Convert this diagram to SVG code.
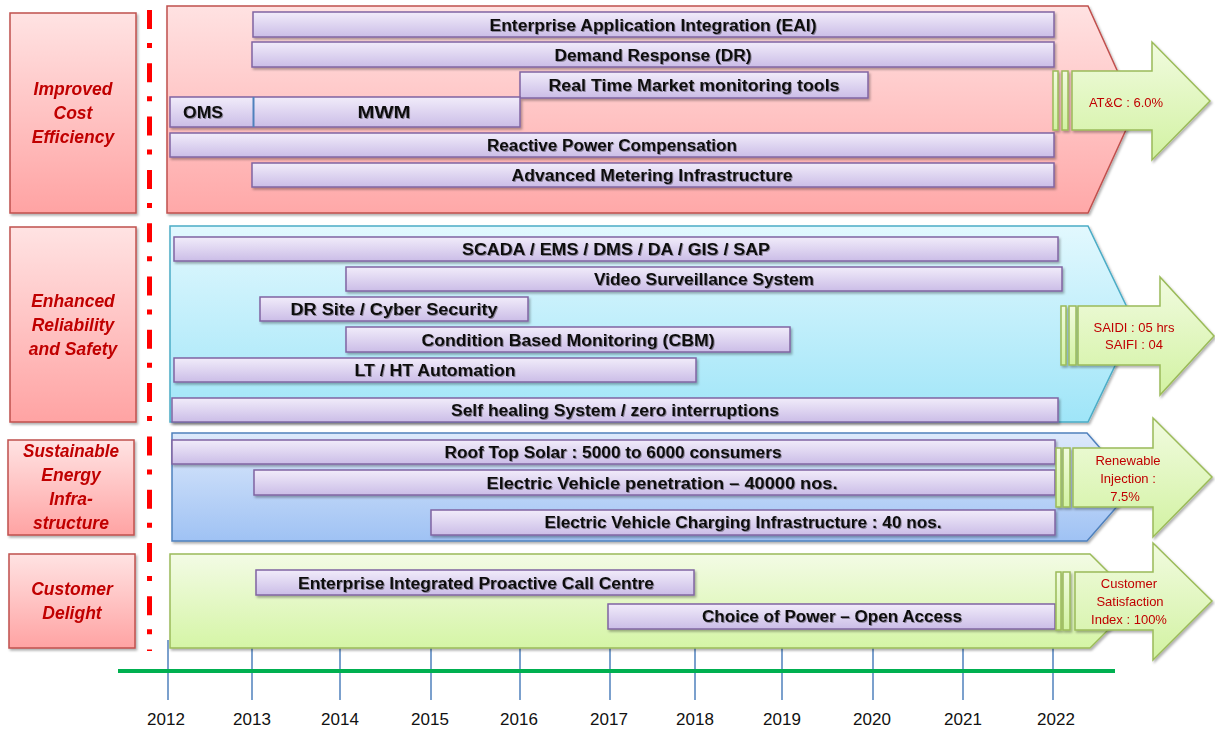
<svg xmlns="http://www.w3.org/2000/svg" width="1215" height="731" viewBox="0 0 1215 731">
<defs>
<linearGradient id="gLabel" x1="0" y1="0" x2="0" y2="1"><stop offset="0" stop-color="#FFE3E3"/><stop offset="1" stop-color="#FFA3A3"/></linearGradient>
<linearGradient id="gP1" x1="0" y1="0" x2="0" y2="1"><stop offset="0" stop-color="#FFE2E2"/><stop offset="1" stop-color="#FFA8A8"/></linearGradient>
<linearGradient id="gP2" x1="0" y1="0" x2="0" y2="1"><stop offset="0" stop-color="#E2F8FE"/><stop offset="1" stop-color="#9FE5F8"/></linearGradient>
<linearGradient id="gP3" x1="0" y1="0" x2="0" y2="1"><stop offset="0" stop-color="#DDE9FB"/><stop offset="1" stop-color="#9FC2F4"/></linearGradient>
<linearGradient id="gP4" x1="0" y1="0" x2="0" y2="1"><stop offset="0" stop-color="#F3FBE5"/><stop offset="1" stop-color="#D5F5A6"/></linearGradient>
<linearGradient id="gBar" x1="0" y1="0" x2="0" y2="1"><stop offset="0" stop-color="#F1ECFA"/><stop offset="1" stop-color="#CBBDE7"/></linearGradient>
<linearGradient id="gArr" x1="0" y1="0" x2="0" y2="1"><stop offset="0" stop-color="#F1FBDF"/><stop offset="1" stop-color="#D2F2A2"/></linearGradient>
<filter id="sh" x="-5%" y="-20%" width="110%" height="150%"><feDropShadow dx="1.5" dy="2" stdDeviation="1.2" flood-color="#000" flood-opacity="0.3"/></filter>
<filter id="tsh" x="-5%" y="-30%" width="110%" height="160%"><feDropShadow dx="1" dy="1" stdDeviation="0.7" flood-color="#000" flood-opacity="0.35"/></filter>
</defs>
<style>
.lbl{fill:url(#gLabel);stroke:#C0504D;stroke-width:1.5}
.lt{font-family:"Liberation Sans",Arial,sans-serif;font-weight:bold;font-style:italic;font-size:17.5px;fill:#C00000;text-anchor:middle}
.bar{fill:url(#gBar);stroke:#8064A2;stroke-width:1.5}
.bt{font-family:"Liberation Sans",Arial,sans-serif;font-weight:bold;font-size:16px;fill:#111;text-anchor:middle}
.arr{fill:url(#gArr);stroke:#9BBB59;stroke-width:1.5}
.at{font-family:"Liberation Sans",Arial,sans-serif;font-size:13px;fill:#C00000;text-anchor:middle}
.tick{stroke:#4F81BD;stroke-width:1.5}
.yr{font-family:"Liberation Sans",Arial,sans-serif;font-size:17px;fill:#111;text-anchor:middle}
</style>
<rect width="1215" height="731" fill="#FFFFFF"/>

<g id="axis">
<g class="tick">
<line x1="168" y1="640" x2="168" y2="700"/>
<line x1="252" y1="640" x2="252" y2="700"/>
<line x1="340" y1="640" x2="340" y2="700"/>
<line x1="431" y1="640" x2="431" y2="700"/>
<line x1="520" y1="640" x2="520" y2="700"/>
<line x1="610" y1="640" x2="610" y2="700"/>
<line x1="695" y1="640" x2="695" y2="700"/>
<line x1="782" y1="640" x2="782" y2="700"/>
<line x1="873" y1="640" x2="873" y2="700"/>
<line x1="963" y1="640" x2="963" y2="700"/>
<line x1="1053" y1="640" x2="1053" y2="700"/>
</g>
<line x1="118" y1="671" x2="1115" y2="671" stroke="#00B050" stroke-width="4"/>
<text class="yr" x="166" y="725">2012</text>
<text class="yr" x="252" y="725">2013</text>
<text class="yr" x="340" y="725">2014</text>
<text class="yr" x="430" y="725">2015</text>
<text class="yr" x="519" y="725">2016</text>
<text class="yr" x="609" y="725">2017</text>
<text class="yr" x="695" y="725">2018</text>
<text class="yr" x="782" y="725">2019</text>
<text class="yr" x="872" y="725">2020</text>
<text class="yr" x="963" y="725">2021</text>
<text class="yr" x="1056" y="725">2022</text>
</g>

<g id="divider">
<line x1="149.5" y1="10" x2="149.5" y2="651" stroke="#FF0000" stroke-width="5" stroke-dasharray="19 14 5 15.3"/>
</g>

<g id="label-cost" filter="url(#sh)">
<rect class="lbl" x="10" y="13" width="126" height="200"/>
<text class="lt" x="73" y="95">Improved</text>
<text class="lt" x="73" y="119">Cost</text>
<text class="lt" x="73" y="143">Efficiency</text>
</g>
<g id="label-reliability" filter="url(#sh)">
<rect class="lbl" x="10" y="227" width="126" height="195"/>
<text class="lt" x="73" y="307">Enhanced</text>
<text class="lt" x="73" y="331">Reliability</text>
<text class="lt" x="73" y="355">and Safety</text>
</g>
<g id="label-energy" filter="url(#sh)">
<rect class="lbl" x="8" y="440" width="126" height="95"/>
<text class="lt" x="71" y="457" textLength="96" lengthAdjust="spacingAndGlyphs">Sustainable</text>
<text class="lt" x="71" y="481">Energy</text>
<text class="lt" x="71" y="505">Infra-</text>
<text class="lt" x="71" y="529">structure</text>
</g>
<g id="label-customer" filter="url(#sh)">
<rect class="lbl" x="9" y="554" width="126" height="94"/>
<text class="lt" x="72" y="595">Customer</text>
<text class="lt" x="72" y="619">Delight</text>
</g>

<g id="panel-cost">
<path d="M167,6 H1088 L1135,110 L1088,213 H167 Z" fill="url(#gP1)" stroke="#C0504D" stroke-width="1.5" filter="url(#sh)"/>
<g filter="url(#sh)">
<rect class="bar" x="253" y="12" width="801" height="25"/>
<rect class="bar" x="252" y="42" width="802" height="25"/>
<rect class="bar" x="520" y="72" width="348" height="26"/>
<rect class="bar" x="170" y="97" width="350" height="30"/>
<rect class="bar" x="170" y="133" width="884" height="24"/>
<rect class="bar" x="252" y="163" width="802" height="24"/>
</g>
<line x1="253.5" y1="97" x2="253.5" y2="127" stroke="#4F81BD" stroke-width="2"/>
<g filter="url(#tsh)">
<text class="bt" x="653" y="31" textLength="327" lengthAdjust="spacingAndGlyphs">Enterprise Application Integration (EAI)</text>
<text class="bt" x="653" y="61" textLength="197" lengthAdjust="spacingAndGlyphs">Demand Response (DR)</text>
<text class="bt" x="694" y="91" textLength="291" lengthAdjust="spacingAndGlyphs">Real Time Market monitoring tools</text>
<text class="bt" x="203" y="118" textLength="40" lengthAdjust="spacingAndGlyphs">OMS</text>
<text class="bt" x="384" y="118" textLength="53" lengthAdjust="spacingAndGlyphs">MWM</text>
<text class="bt" x="612" y="151" textLength="250" lengthAdjust="spacingAndGlyphs">Reactive Power Compensation</text>
<text class="bt" x="652" y="181" textLength="281" lengthAdjust="spacingAndGlyphs">Advanced Metering Infrastructure</text>
</g>
</g>

<g id="panel-reliability">
<path d="M170,226 H1088 L1135,324 L1088,422 H170 Z" fill="url(#gP2)" stroke="#4BACC6" stroke-width="1.5" filter="url(#sh)"/>
<g filter="url(#sh)">
<rect class="bar" x="174" y="237" width="884" height="24"/>
<rect class="bar" x="346" y="267" width="716" height="24"/>
<rect class="bar" x="260" y="297" width="268" height="24"/>
<rect class="bar" x="346" y="327" width="444" height="25"/>
<rect class="bar" x="174" y="358" width="522" height="24"/>
<rect class="bar" x="172" y="398" width="886" height="24"/>
</g>
<g filter="url(#tsh)">
<text class="bt" x="616" y="255" textLength="308" lengthAdjust="spacingAndGlyphs">SCADA / EMS / DMS / DA / GIS / SAP</text>
<text class="bt" x="704" y="285" textLength="220" lengthAdjust="spacingAndGlyphs">Video Surveillance System</text>
<text class="bt" x="394" y="315" textLength="207" lengthAdjust="spacingAndGlyphs">DR Site / Cyber Security</text>
<text class="bt" x="568" y="346" textLength="293" lengthAdjust="spacingAndGlyphs">Condition Based Monitoring (CBM)</text>
<text class="bt" x="435" y="376" textLength="161" lengthAdjust="spacingAndGlyphs">LT / HT Automation</text>
<text class="bt" x="615" y="416" textLength="328" lengthAdjust="spacingAndGlyphs">Self healing System / zero interruptions</text>
</g>
</g>

<g id="panel-energy">
<path d="M172,433 H1087 L1134,487 L1087,541 H172 Z" fill="url(#gP3)" stroke="#4F81BD" stroke-width="1.5" filter="url(#sh)"/>
<g filter="url(#sh)">
<rect class="bar" x="172" y="440" width="883" height="24"/>
<rect class="bar" x="254" y="470" width="801" height="25"/>
<rect class="bar" x="431" y="510" width="624" height="25"/>
</g>
<g filter="url(#tsh)">
<text class="bt" x="613" y="458" textLength="337" lengthAdjust="spacingAndGlyphs">Roof Top Solar : 5000 to 6000 consumers</text>
<text class="bt" x="662" y="489" textLength="351" lengthAdjust="spacingAndGlyphs">Electric Vehicle penetration – 40000 nos.</text>
<text class="bt" x="743" y="528" textLength="397" lengthAdjust="spacingAndGlyphs">Electric Vehicle Charging Infrastructure : 40 nos.</text>
</g>
</g>

<g id="panel-customer">
<path d="M170,554 H1090 L1137,601 L1090,648 H170 Z" fill="url(#gP4)" stroke="#9BBB59" stroke-width="1.5" filter="url(#sh)"/>
<g filter="url(#sh)">
<rect class="bar" x="256" y="570" width="438" height="25"/>
<rect class="bar" x="608" y="604" width="447" height="25"/>
</g>
<g filter="url(#tsh)">
<text class="bt" x="476" y="589" textLength="356" lengthAdjust="spacingAndGlyphs">Enterprise Integrated Proactive Call Centre</text>
<text class="bt" x="832" y="622" textLength="260" lengthAdjust="spacingAndGlyphs">Choice of Power – Open Access</text>
</g>
</g>

<g id="target-atc" filter="url(#sh)">
<rect class="arr" x="1053" y="71" width="5" height="59"/>
<rect class="arr" x="1062" y="71" width="6" height="59"/>
<path class="arr" d="M1072,71 H1152 V42 L1210,101 L1152,160 V130 H1072 Z"/>
<text class="at" x="1126" y="107">AT&amp;C : 6.0%</text>
</g>
<g id="target-saidi" filter="url(#sh)">
<rect class="arr" x="1061" y="306" width="5" height="59"/>
<rect class="arr" x="1069" y="306" width="7" height="59"/>
<path class="arr" d="M1078,306 H1160 V277 L1214,336 L1160,395 V365 H1078 Z"/>
<text class="at" x="1134" y="332">SAIDI : 05 hrs</text>
<text class="at" x="1134" y="349">SAIFI : 04</text>
</g>
<g id="target-renewable" filter="url(#sh)">
<rect class="arr" x="1056" y="448" width="5" height="59"/>
<rect class="arr" x="1063" y="448" width="7" height="59"/>
<path class="arr" d="M1073,448 H1153 V418 L1212,477 L1153,537 V507 H1073 Z"/>
<text class="at" x="1128" y="465">Renewable</text>
<text class="at" x="1128" y="483">Injection :</text>
<text class="at" x="1125" y="501">7.5%</text>
</g>
<g id="target-csi" filter="url(#sh)">
<rect class="arr" x="1056" y="572" width="5" height="58"/>
<rect class="arr" x="1063" y="572" width="7" height="58"/>
<path class="arr" d="M1075,572 H1153 V543 L1212,601 L1153,660 V630 H1075 Z"/>
<text class="at" x="1129" y="588">Customer</text>
<text class="at" x="1130" y="606">Satisfaction</text>
<text class="at" x="1129" y="624">Index : 100%</text>
</g>
</svg>
